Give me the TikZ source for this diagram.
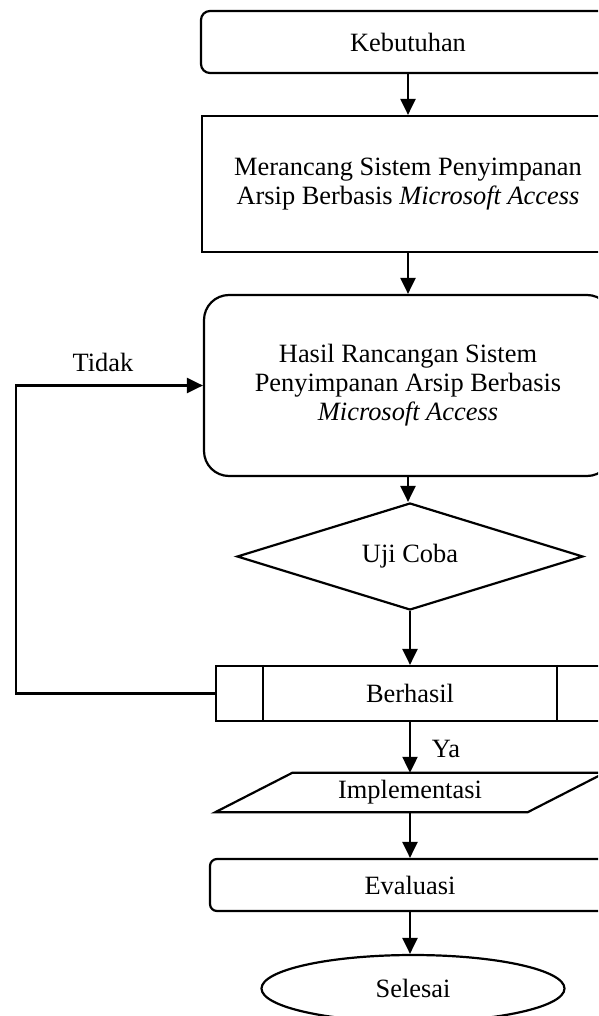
\documentclass[tikz,border=0pt]{standalone}
\usepackage{fontspec}
\setmainfont{Liberation Serif}
\usetikzlibrary{shapes.geometric,arrows.meta}
\begin{document}
\begin{tikzpicture}[x=1pt,y=-1pt,
  every node/.style={font=\fontsize{26.4}{29}\selectfont, inner sep=0pt, align=center},
  ln/.style={line width=2.2pt},
  plainbox/.style={draw, ln, rectangle},
  roundbox/.style={draw, ln, rectangle, rounded corners=#1},
  decision/.style={draw, ln, diamond, aspect=3.2},
  terminal/.style={draw, ln, ellipse},
  arr/.style={ln, -{Triangle[length=16pt,width=15pt]}},
]
\clip (0,0) rectangle (598,1016);
\useasboundingbox (0,0) rectangle (598,1016);

\node[roundbox=9pt, minimum width=414pt, minimum height=62pt] (keb) at (408,42) {Kebutuhan};
\node[plainbox, minimum width=412pt, minimum height=136pt] (mer) at (408,184)
  {Merancang Sistem Penyimpanan\\Arsip Berbasis \textit{Microsoft Access}};
\node[roundbox=25pt, minimum width=408pt, minimum height=181pt] (has) at (408,385.5)
  {Hasil Rancangan Sistem\\Penyimpanan Arsip Berbasis\\\textit{Microsoft Access}};
\node[decision, minimum width=346pt, minimum height=107pt] (dia) at (410,556.5) {Uji Coba};
\node[plainbox, minimum width=388pt, minimum height=55pt] (berh) at (410,693.5) {Berhasil};
\draw[ln] ([xshift=48pt]berh.north west) -- ([xshift=48pt]berh.south west);
\draw[ln] ([xshift=-48pt]berh.north east) -- ([xshift=-48pt]berh.south east);
\node[minimum width=312pt, minimum height=39pt] (impl) at (410,792.5) {Implementasi};
\draw[ln, line join=miter] ([xshift=-38.5pt]impl.south west) -- ([xshift=38.5pt]impl.north west)
  -- ([xshift=38.5pt]impl.north east) -- ([xshift=-38.5pt]impl.south east) -- cycle;
\node[roundbox=7pt, minimum width=400pt, minimum height=52pt] (eval) at (410,885) {Evaluasi};
\node[terminal, minimum width=303pt, minimum height=67pt] (sel) at (413,988.5) {Selesai};

\coordinate (lp) at (16,0);
\node (tidak) at (103,362) {Tidak};
\node (ya) at (446,749) {Ya};

\draw[arr] (keb.south) -- (keb.south |- mer.north);
\draw[arr] (mer.south) -- (mer.south |- has.north);
\draw[arr] (has.south) -- (has.south |- dia.north);
\draw[arr] (dia.south) -- (dia.south |- berh.north);
\draw[arr] (berh.south) -- (berh.south |- impl.north);
\draw[arr] (impl.south) -- (impl.south |- eval.north);
\draw[arr] (eval.south) -- (eval.south |- sel.north);
\draw[arr] (berh.west) -- (berh.west -| lp) -- (has.west -| lp) -- (has.west);
\end{tikzpicture}
\end{document}
